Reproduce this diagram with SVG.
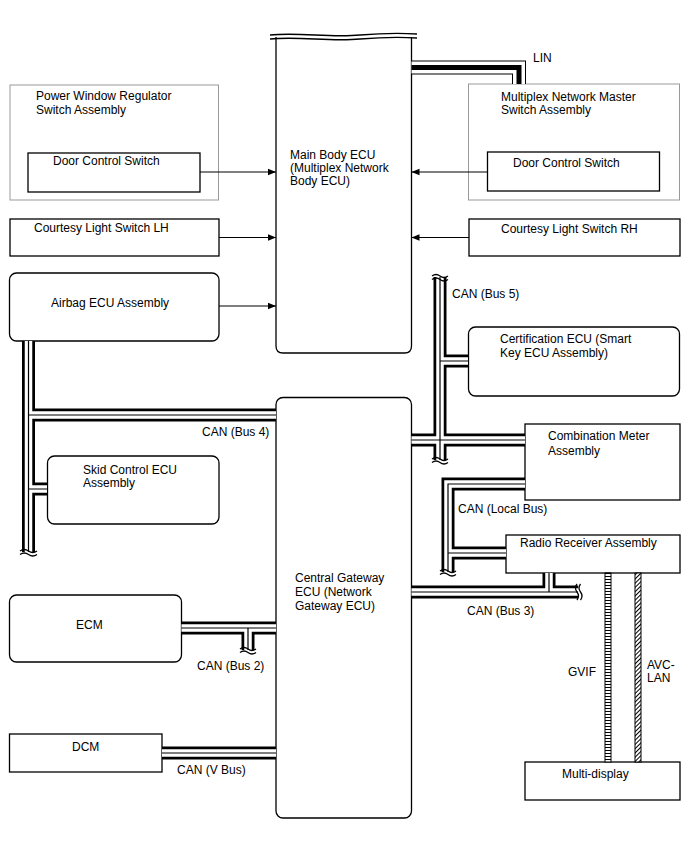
<svg xmlns="http://www.w3.org/2000/svg" width="688" height="852" viewBox="0 0 688 852">
<style>
  text { font-family: "Liberation Sans", Arial, sans-serif; font-size: 12px; fill: #000; }
  .box { fill: #fff; stroke: #000; stroke-width: 1.3; }
  .gbox { fill: #fff; stroke: #999; stroke-width: 1; }
  .arr { fill: none; stroke: #000; stroke-width: 1.2; marker-end: url(#ah); }
  .canA { fill: none; stroke: #000; stroke-width: 13; }
  .canB { fill: none; stroke: #fff; stroke-width: 7.5; }
  .canC { fill: none; stroke: #000; stroke-width: 1.2; }
  .linA { fill: none; stroke: #000; stroke-width: 14; }
  .linB { fill: none; stroke: #fff; stroke-width: 12; }
  .linC { fill: none; stroke: #000; stroke-width: 5; }
  .brk { fill: none; stroke: #000; stroke-width: 1.3; }
</style>
<defs>
  <marker id="ah" viewBox="0 0 10 10" refX="10" refY="5" markerWidth="10" markerHeight="8" markerUnits="userSpaceOnUse" orient="auto">
    <path d="M0 1 L10 5 L0 9 Z" fill="#000"/>
  </marker>
  <pattern id="ladder" width="6" height="3" patternUnits="userSpaceOnUse">
    <rect width="6" height="3" fill="#fff"/>
    <line x1="0" y1="0.5" x2="6" y2="0.5" stroke="#000" stroke-width="1"/>
  </pattern>
  <pattern id="hatch" width="3" height="3" patternUnits="userSpaceOnUse" patternTransform="rotate(45)">
    <rect width="3" height="3" fill="#fff"/>
    <line x1="0.5" y1="0" x2="0.5" y2="3" stroke="#000" stroke-width="1"/>
  </pattern>
  <path id="bus4" d="M28.5 341 V552 M28.5 415 H276 M28.5 489 H47"/>
  <path id="bus5" d="M440 277 V460 M440 361 H468 M411.5 440 H525"/>
  <path id="busL" d="M525 484 H448 V572 M448 553 H506"/>
  <path id="bus3" d="M411.5 592 H578 M549 573 V592"/>
  <path id="bus2" d="M181.5 628 H276 M248 628 V650"/>
  <path id="busV" d="M162 753 H276"/>
  <path id="lin" d="M411.5 67.5 H519 V84"/>
</defs>

<g id="main-body-ecu">
  <path class="box" d="M276 37 V346 Q276 353 283 353 H404.5 Q411.5 353 411.5 346 V37"/>
  <path fill="none" stroke="#000" stroke-width="1.3" d="M270 35 C300 32 330 38 360 35 C385 33 400 33 417 34"/>
  <path fill="none" stroke="#000" stroke-width="1.3" d="M270 39 C300 36 330 42 360 39 C385 37 400 37 417 38"/>
  <text x="290" y="159">Main Body ECU</text>
  <text x="290" y="172">(Multiplex Network</text>
  <text x="290" y="185">Body ECU)</text>
</g>

<g id="power-window">
  <rect class="gbox" x="10" y="85" width="208.5" height="115"/>
  <text x="36" y="100">Power Window Regulator</text>
  <text x="36" y="114">Switch Assembly</text>
</g>
<g id="door-switch-left">
  <rect class="box" x="28" y="153" width="172" height="39"/>
  <text x="53" y="165">Door Control Switch</text>
</g>

<g id="multiplex-master">
  <rect class="gbox" x="468.5" y="84" width="211" height="116"/>
  <text x="501" y="101">Multiplex Network Master</text>
  <text x="501" y="114">Switch Assembly</text>
</g>
<g id="door-switch-right">
  <rect class="box" x="487.5" y="152" width="172" height="39"/>
  <text x="513" y="167">Door Control Switch</text>
</g>

<g id="courtesy-lh">
  <rect class="box" x="10" y="219" width="209" height="37"/>
  <text x="34" y="232">Courtesy Light Switch LH</text>
</g>
<g id="courtesy-rh">
  <rect class="box" x="469" y="219" width="211" height="37"/>
  <text x="501" y="233">Courtesy Light Switch RH</text>
</g>

<g id="airbag-ecu">
  <rect class="box" x="9.5" y="273" width="209.5" height="68" rx="7"/>
  <text x="51" y="307">Airbag ECU Assembly</text>
</g>

<g id="skid-control-ecu">
  <rect class="box" x="47.5" y="456" width="171.5" height="68" rx="7"/>
  <text x="83" y="474">Skid Control ECU</text>
  <text x="83" y="487">Assembly</text>
</g>

<g id="certification-ecu">
  <rect class="box" x="468.5" y="327" width="211" height="69" rx="7"/>
  <text x="500" y="343">Certification ECU (Smart</text>
  <text x="500" y="357">Key ECU Assembly)</text>
</g>

<g id="combination-meter">
  <rect class="box" x="525" y="424" width="155" height="76"/>
  <text x="548" y="440">Combination Meter</text>
  <text x="548" y="455">Assembly</text>
</g>

<g id="radio-receiver">
  <rect class="box" x="506" y="535" width="174" height="38"/>
  <text x="520" y="547">Radio Receiver Assembly</text>
</g>

<g id="central-gateway-ecu">
  <rect class="box" x="276" y="397.5" width="135.5" height="420.5" rx="7"/>
  <text x="295" y="582">Central Gateway</text>
  <text x="295" y="596">ECU (Network</text>
  <text x="295" y="610">Gateway ECU)</text>
</g>

<g id="ecm">
  <rect class="box" x="9.5" y="595" width="172" height="67" rx="7"/>
  <text x="76" y="629">ECM</text>
</g>

<g id="dcm">
  <rect class="box" x="9.5" y="734" width="152.5" height="38"/>
  <text x="72" y="751">DCM</text>
</g>

<g id="multi-display">
  <rect class="box" x="525" y="762" width="155" height="38"/>
  <text x="562" y="778">Multi-display</text>
</g>

<g id="connectors">
  <line class="arr" x1="200" y1="172" x2="276" y2="172"/>
  <line class="arr" x1="487.5" y1="172" x2="411.5" y2="172"/>
  <line class="arr" x1="219" y1="237.5" x2="276" y2="237.5"/>
  <line class="arr" x1="469" y1="237.5" x2="411.5" y2="237.5"/>
  <line class="arr" x1="219" y1="306" x2="276" y2="306"/>

  <use href="#lin" class="linA"/>
  <use href="#lin" class="linB"/>
  <use href="#lin" class="linC"/>

  <use href="#bus4" class="canA"/>
  <use href="#bus5" class="canA"/>
  <use href="#busL" class="canA"/>
  <use href="#bus3" class="canA"/>
  <use href="#bus2" class="canA"/>
  <use href="#busV" class="canA"/>
  <use href="#bus4" class="canB"/>
  <use href="#bus5" class="canB"/>
  <use href="#busL" class="canB"/>
  <use href="#bus3" class="canB"/>
  <use href="#bus2" class="canB"/>
  <use href="#busV" class="canB"/>
  <use href="#bus4" class="canC"/>
  <use href="#bus5" class="canC"/>
  <use href="#busL" class="canC"/>
  <use href="#bus3" class="canC"/>
  <use href="#bus2" class="canC"/>
  <use href="#busV" class="canC"/>

  <path class="brk" d="M20 551 q4.25 -3 8.5 0 t8.5 0 M20 554.5 q4.25 -3 8.5 0 t8.5 0"/>
  <path class="brk" d="M432 276 q4 -3 8 0 t8 0 M432 279.5 q4 -3 8 0 t8 0"/>
  <path class="brk" d="M432 459 q4 -3 8 0 t8 0 M432 462.5 q4 -3 8 0 t8 0"/>
  <path class="brk" d="M440 571 q4 -3 8 0 t8 0 M440 574.5 q4 -3 8 0 t8 0"/>
  <path class="brk" d="M240 649 q4 -3 8 0 t8 0 M240 652.5 q4 -3 8 0 t8 0"/>
  <path class="brk" d="M577 584 q-3 4 0 8 t0 8 M580.5 584 q-3 4 0 8 t0 8"/>

  <rect x="605" y="573" width="6" height="189" fill="url(#ladder)" stroke="#000" stroke-width="1"/>
  <rect x="635" y="573" width="6" height="189" fill="url(#hatch)" stroke="#000" stroke-width="1"/>

  <text x="533" y="62">LIN</text>
  <text x="202" y="436">CAN (Bus 4)</text>
  <text x="452" y="298">CAN (Bus 5)</text>
  <text x="458" y="513">CAN (Local Bus)</text>
  <text x="467" y="615">CAN (Bus 3)</text>
  <text x="197" y="670">CAN (Bus 2)</text>
  <text x="177" y="774">CAN (V Bus)</text>
  <text x="568" y="676">GVIF</text>
  <text x="647" y="669">AVC-</text>
  <text x="647" y="682">LAN</text>
</g>
</svg>
